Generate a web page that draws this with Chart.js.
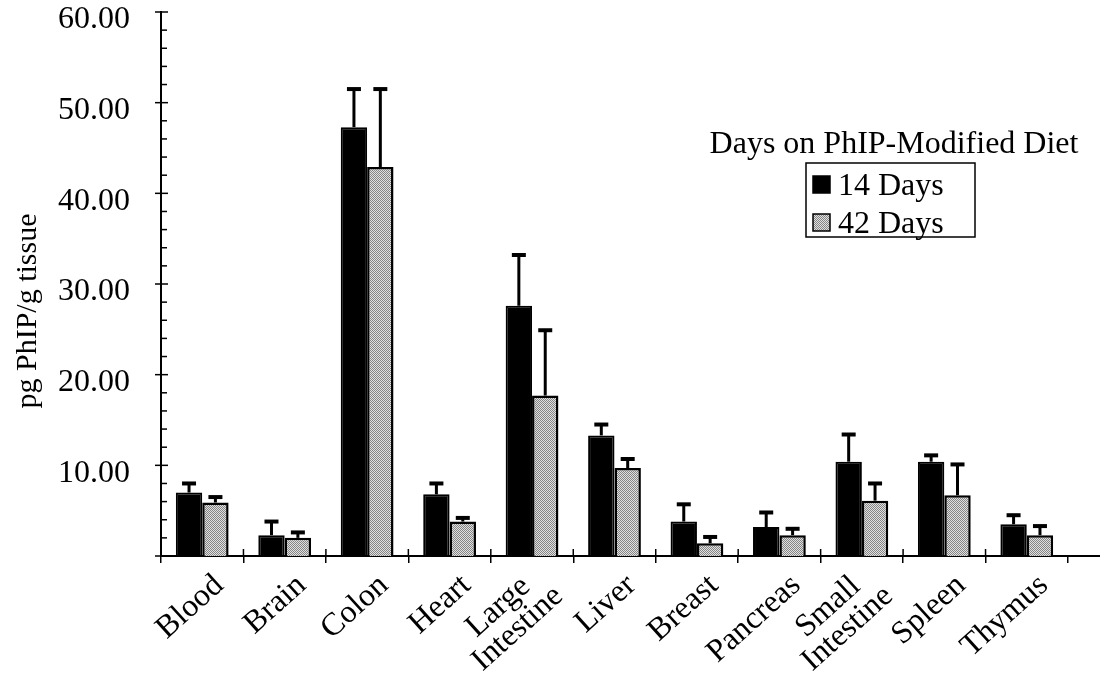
<!DOCTYPE html>
<html>
<head>
<meta charset="utf-8">
<title>PhIP in tissue</title>
<script src="https://cdn.jsdelivr.net/npm/chart.js@4.4.1/dist/chart.umd.min.js"></script>
<style>
  html, body { margin: 0; padding: 0; background: #fff; }
  #wrap { width: 1102px; height: 676px; }
</style>
</head>
<body>
<div id="wrap"><canvas id="phipChart" width="1102" height="676"></canvas></div>
<script>
// tissues (x categories)
const tissues = ['Blood', 'Brain', 'Colon', 'Heart', ['Large', 'Intestine'], 'Liver',
  'Breast', 'Pancreas', ['Small', 'Intestine'], 'Spleen', 'Thymus'];

// mean pg PhIP / g tissue
const days14 = [7.0, 2.3, 47.3, 6.8, 27.6, 13.3, 3.8, 3.2, 10.4, 10.4, 3.5];
const days42 = [5.9, 2.0, 42.9, 3.8, 17.7, 9.7, 1.4, 2.3, 6.1, 6.7, 2.3];

// upper error bars (SD)
const err14 = [1.0, 1.5, 4.2, 1.2, 5.6, 1.2, 1.9, 1.6, 3.0, 0.7, 1.0];
const err42 = [0.6, 0.6, 8.6, 0.4, 7.2, 1.0, 0.7, 0.7, 1.9, 3.4, 1.0];

const yTicks = [10, 20, 30, 40, 50, 60];
const seriesNames = ['14 Days', '42 Days'];
const legendTitle = 'Days on PhIP-Modified Diet';
const yTitle = 'pg PhIP/g tissue';

const SERIF = "'Liberation Serif', 'Times New Roman', serif";
const LABEL_ANGLE = 42 * Math.PI / 180;

// stippled grey fill like the scan
function makeStipple() {
  const c = document.createElement('canvas');
  c.width = 2; c.height = 2;
  const g = c.getContext('2d');
  g.fillStyle = '#e0e0e0'; g.fillRect(0, 0, 2, 2);
  g.fillStyle = '#858585'; g.fillRect(0, 0, 1, 1); g.fillRect(1, 1, 1, 1);
  return g.createPattern(c, 'repeat');
}
const stipple = makeStipple();

const errors = [err14, err42];

// error bars (upper only, with cap)
const errorBarPlugin = {
  id: 'errorBars',
  afterDatasetsDraw(chart) {
    const ctx = chart.ctx;
    const y = chart.scales.y;
    ctx.save();
    ctx.strokeStyle = '#000';
    chart.data.datasets.forEach((ds, di) => {
      const meta = chart.getDatasetMeta(di);
      meta.data.forEach((bar, i) => {
        const top = y.getPixelForValue(ds.data[i] + errors[di][i]);
        ctx.lineWidth = 3;
        ctx.beginPath();
        ctx.moveTo(bar.x, bar.y);
        ctx.lineTo(bar.x, top);
        ctx.stroke();
        ctx.lineWidth = 4;
        ctx.beginPath();
        ctx.moveTo(bar.x - 7, top);
        ctx.lineTo(bar.x + 7, top);
        ctx.stroke();
      });
    });
    ctx.restore();
  }
};

// y minor/major tick marks, extended x axis line, y title
const axesPlugin = {
  id: 'axesExtras',
  afterDraw(chart) {
    const ctx = chart.ctx;
    const y = chart.scales.y;
    const x = chart.scales.x;
    const area = chart.chartArea;
    ctx.save();
    ctx.strokeStyle = '#000';
    ctx.lineWidth = 1.5;
    for (let v = 0; v <= 60; v += 2) {
      const py = y.getPixelForValue(v);
      const major = v % 10 === 0;
      ctx.beginPath();
      ctx.moveTo(area.left - (major ? 6 : 0), py);
      ctx.lineTo(area.left + (major ? 7 : 6), py);
      ctx.stroke();
    }
    // category dividers poke a little above the axis
    for (let i = 1; i < tissues.length; i++) {
      const px = (x.getPixelForValue(i - 1) + x.getPixelForValue(i)) / 2;
      ctx.beginPath();
      ctx.moveTo(px, area.bottom);
      ctx.lineTo(px, area.bottom - 7);
      ctx.stroke();
    }
    ctx.lineWidth = 2;
    ctx.beginPath();
    ctx.moveTo(area.right, area.bottom);
    ctx.lineTo(chart.width - 2, area.bottom);
    ctx.stroke();

    ctx.fillStyle = '#000';
    ctx.font = '30px ' + SERIF;
    ctx.textAlign = 'center';
    ctx.textBaseline = 'middle';
    ctx.translate(28, 311);
    ctx.rotate(-Math.PI / 2);
    ctx.fillText(yTitle, 0, 0);
    ctx.restore();
  }
};

// slanted category labels, two-line ones centred as a block
const tissueLabelPlugin = {
  id: 'tissueLabels',
  afterDraw(chart) {
    const ctx = chart.ctx;
    const x = chart.scales.x;
    const bottom = chart.chartArea.bottom;
    ctx.save();
    ctx.fillStyle = '#000';
    ctx.font = '32px ' + SERIF;
    ctx.textAlign = 'center';
    ctx.textBaseline = 'middle';
    chart.data.labels.forEach((label, i) => {
      const lines = Array.isArray(label) ? label : [label];
      const w = Math.max(...lines.map(l => ctx.measureText(l).width));
      ctx.save();
      ctx.translate(x.getPixelForValue(i) + 17, bottom + 25);
      ctx.rotate(-LABEL_ANGLE);
      lines.forEach((l, j) => {
        ctx.fillText(l, -w / 2, (j - (lines.length - 1) / 2) * 29);
      });
      ctx.restore();
    });
    ctx.restore();
  }
};

// legend box at upper right
const legendPlugin = {
  id: 'boxLegend',
  afterDraw(chart) {
    const ctx = chart.ctx;
    ctx.save();
    ctx.fillStyle = '#000';
    ctx.textBaseline = 'middle';
    ctx.font = '32px ' + SERIF;
    ctx.textAlign = 'center';
    ctx.fillText(legendTitle, 894, 145);

    ctx.strokeStyle = '#000';
    ctx.lineWidth = 1.5;
    ctx.strokeRect(806, 163, 169, 74);

    ctx.textAlign = 'left';
    chart.data.datasets.forEach((ds, i) => {
      const cy = 185 + i * 38;
      ctx.fillStyle = ds.backgroundColor;
      ctx.fillRect(813, cy - 9, 17, 17);
      ctx.strokeStyle = '#000';
      ctx.lineWidth = 1.5;
      ctx.strokeRect(813, cy - 9, 17, 17);
      ctx.fillStyle = '#000';
      ctx.fillText(ds.label, 838, cy + 2);
    });
    ctx.restore();
  }
};

const ctx = document.getElementById('phipChart').getContext('2d');

const chart = new Chart(ctx, {
  type: 'bar',
  data: {
    labels: tissues,
    datasets: [{
      label: seriesNames[0],
      data: days14,
      backgroundColor: '#000',
      borderColor: '#000',
      borderWidth: 2,
      categoryPercentage: 0.64,
      barPercentage: 1.0
    }, {
      label: seriesNames[1],
      data: days42,
      backgroundColor: stipple,
      borderColor: '#000',
      borderWidth: 2.5,
      categoryPercentage: 0.64,
      barPercentage: 1.0
    }]
  },
  options: {
    responsive: false,
    animation: false,
    devicePixelRatio: 1,
    layout: { padding: { left: 0, right: 34, top: 12, bottom: 0 } },
    plugins: {
      legend: { display: false },
      tooltip: { enabled: false }
    },
    scales: {
      x: {
        grid: {
          offset: true,
          drawOnChartArea: false,
          color: c => c.index === tissues.length ? 'rgba(0,0,0,0)' : '#000',
          lineWidth: 1.5,
          tickLength: 7
        },
        border: { display: true, color: '#000', width: 2 },
        ticks: { display: false, autoSkip: false },
        afterFit(scale) {
          scale.height = 120;
          scale.paddingLeft = 0;
          scale.paddingRight = 0;
        }
      },
      y: {
        min: 0,
        max: 60,
        grid: { display: false, drawTicks: false },
        border: { display: true, color: '#000', width: 2 },
        ticks: {
          stepSize: 10,
          color: '#000',
          padding: 31,
          labelOffset: 8,
          font: { family: SERIF, size: 32, lineHeight: 1 },
          callback: v => yTicks.includes(v) ? v.toFixed(2) : ''
        },
        afterFit(scale) {
          scale.width = 161;
          scale.paddingTop = 0;
          scale.paddingBottom = 0;
        }
      }
    }
  },
  plugins: [errorBarPlugin, axesPlugin, tissueLabelPlugin, legendPlugin]
});
</script>
</body>
</html>
